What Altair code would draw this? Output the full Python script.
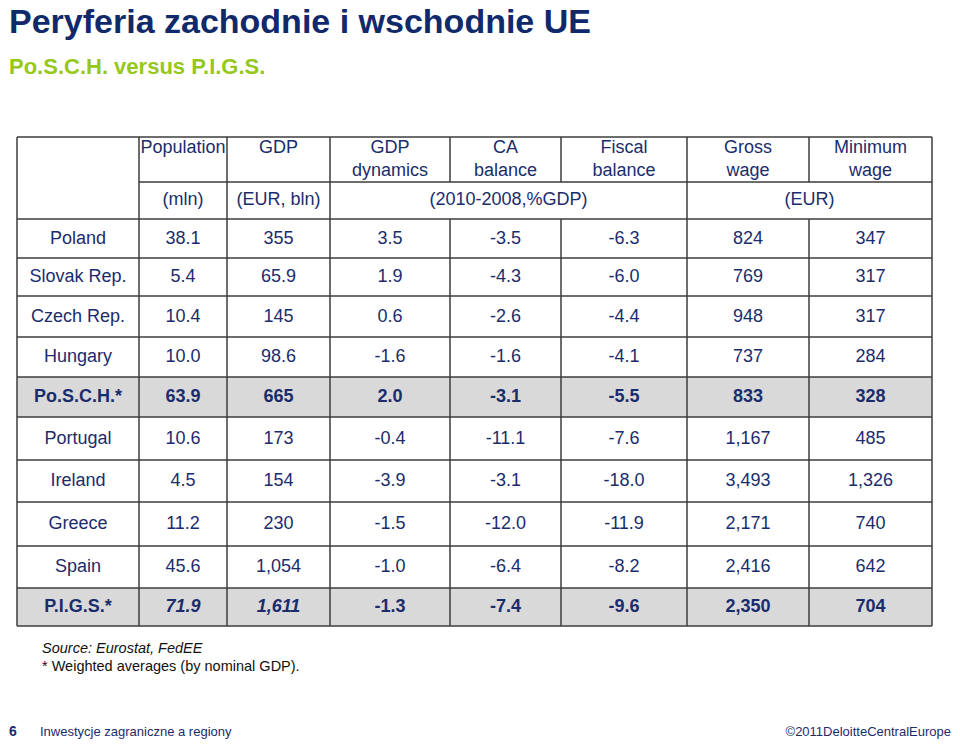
import altair as alt
import pandas as pd

# ---------------- data ----------------
countries = ["Poland", "Slovak Rep.", "Czech Rep.", "Hungary", "Po.S.C.H.*",
             "Portugal", "Ireland", "Greece", "Spain", "P.I.G.S.*"]
population = [38.1, 5.4, 10.4, 10.0, 63.9, 10.6, 4.5, 11.2, 45.6, 71.9]
gdp = [355, 65.9, 145, 98.6, 665, 173, 154, 230, 1054, 1611]
gdp_dynamics = [3.5, 1.9, 0.6, -1.6, 2.0, -0.4, -3.9, -1.5, -1.0, -1.3]
ca_balance = [-3.5, -4.3, -2.6, -1.6, -3.1, -11.1, -3.1, -12.0, -6.4, -7.4]
fiscal_balance = [-6.3, -6.0, -4.4, -4.1, -5.5, -7.6, -18.0, -11.9, -8.2, -9.6]
gross_wage = [824, 769, 948, 737, 833, 1167, 3493, 2171, 2416, 2350]
minimum_wage = [347, 317, 317, 284, 328, 485, 1326, 740, 642, 704]
summary_rows = ["Po.S.C.H.*", "P.I.G.S.*"]

header_line1 = ["Population", "GDP", "GDP", "CA", "Fiscal", "Gross", "Minimum"]
header_line2 = ["", "", "dynamics", "balance", "balance", "wage", "wage"]
unit_labels = ["(mln)", "(EUR, bln)", "(2010-2008,%GDP)", "(EUR)"]
unit_spans = [(1, 2), (2, 3), (3, 6), (6, 8)]

title = "Peryferia zachodnie i wschodnie UE"
subtitle = "Po.S.C.H. versus P.I.G.S."
source_note = "Source: Eurostat, FedEE"
avg_note = "* Weighted averages (by nominal GDP)."
page_no = "6"
footer_left = "Inwestycje zagraniczne a regiony"
footer_right = "\u00a92011DeloitteCentralEurope"

# ---------------- layout ----------------
W, H = 944, 731
COL = [17, 139, 227, 330, 450, 561, 687, 809, 932]
ROW = [219, 258, 296, 337, 377, 417, 460, 502, 546, 588, 626]
HEAD_TOP, HEAD_MID = 137, 182
NAVY = "#1b2c6c"
FONT = "Liberation Sans"

def fmt_dec(v):
    return f"{v:.1f}"

def fmt_gdp(v):
    return f"{v:,.0f}" if v >= 100 else f"{v:.1f}"

def fmt_int(v):
    return f"{v:,.0f}"

columns = [
    (population, fmt_dec), (gdp, fmt_gdp), (gdp_dynamics, fmt_dec),
    (ca_balance, fmt_dec), (fiscal_balance, fmt_dec),
    (gross_wage, fmt_int), (minimum_wage, fmt_int),
]

cells = []
for i, c in enumerate(countries):
    yc = (ROW[i] + ROW[i + 1]) / 2
    summ = c in summary_rows
    cells.append(dict(x=(COL[0] + COL[1]) / 2, y=yc, text=c,
                      style="bold" if summ else "normal"))
    for j, (vals, f) in enumerate(columns):
        style = "normal"
        if summ:
            style = "bold"
            if c == "P.I.G.S.*" and j in (0, 1):
                style = "bolditalic"
        cells.append(dict(x=(COL[j + 1] + COL[j + 2]) / 2, y=yc,
                          text=f(vals[i]), style=style))
for j in range(7):
    xc = (COL[j + 1] + COL[j + 2]) / 2
    cells.append(dict(x=xc, y=148, text=header_line1[j], style="normal"))
    if header_line2[j]:
        cells.append(dict(x=xc, y=171, text=header_line2[j], style="normal"))
for lab, (a, b) in zip(unit_labels, unit_spans):
    cells.append(dict(x=(COL[a] + COL[b]) / 2, y=200, text=lab, style="normal"))
cells_df = pd.DataFrame(cells)

# grid lines
rules = [dict(x=COL[0], x2=COL[-1], y=HEAD_TOP, y2=HEAD_TOP),
         dict(x=COL[1], x2=COL[-1], y=HEAD_MID, y2=HEAD_MID)]
for yy in ROW:
    rules.append(dict(x=COL[0], x2=COL[-1], y=yy, y2=yy))
for k, xx in enumerate(COL):
    if k in (4, 5, 7):
        rules.append(dict(x=xx, x2=xx, y=HEAD_TOP, y2=HEAD_MID))
        rules.append(dict(x=xx, x2=xx, y=ROW[0], y2=ROW[-1]))
    else:
        rules.append(dict(x=xx, x2=xx, y=HEAD_TOP, y2=ROW[-1]))
rules_df = pd.DataFrame(rules)

fills = []
for c in summary_rows:
    i = countries.index(c)
    fills.append(dict(x=COL[0], x2=COL[-1], y=ROW[i], y2=ROW[i + 1]))
fills_df = pd.DataFrame(fills)

xs = alt.Scale(domain=[8, 8 + W], nice=False, zero=False)
ys = alt.Scale(domain=[8, 8 + H], nice=False, zero=False, reverse=True)
X = alt.X("x:Q", scale=xs, axis=None)
Y = alt.Y("y:Q", scale=ys, axis=None)

fill_layer = alt.Chart(fills_df).mark_rect(color="#d9d9d9").encode(
    x=X, x2="x2:Q", y=Y, y2="y2:Q")
rule_layer = alt.Chart(rules_df).mark_rule(color="#3c3c3c", strokeWidth=1.5).encode(
    x=X, x2="x2:Q", y=Y, y2="y2:Q")

def cell_layer(style, **kw):
    return alt.Chart(cells_df).transform_filter(
        alt.datum.style == style
    ).mark_text(font=FONT, fontSize=18, color=NAVY, align="center",
                baseline="middle", **kw).encode(x=X, y=Y, text="text:N")

t_normal = cell_layer("normal")
t_bold = cell_layer("bold", fontWeight="bold")
t_bi = cell_layer("bolditalic", fontWeight="bold", fontStyle="italic")

def label(txt, x, y, size, color, align="left", **kw):
    df = pd.DataFrame([dict(x=x, y=y, text=txt)])
    return alt.Chart(df).mark_text(font=FONT, fontSize=size, color=color,
                                   align=align, baseline="alphabetic", **kw).encode(
        x=X, y=Y, text="text:N")

labels = [
    label(title, 9, 33, 34, "#10296b", fontWeight="bold"),
    label(subtitle, 9, 74, 22, "#95c81a", fontWeight="bold"),
    label(source_note, 42, 653, 14.5, "#111111", fontStyle="italic"),
    label(avg_note, 42, 671, 14.5, "#111111"),
    label(page_no, 9, 736, 14, "#1b2c6c", fontWeight="bold"),
    label(footer_left, 40, 736, 13, "#1b2c6c"),
    label(footer_right, 951, 736, 13, "#1b2c6c", align="right"),
]

chart = alt.layer(fill_layer, rule_layer, t_normal, t_bold, t_bi, *labels).properties(
    width=W, height=H, padding=0,
    autosize=alt.AutoSizeParams(type="none"),
).configure_view(stroke=None)

chart.save("out.html", embed_options={"renderer": "svg", "actions": False})
